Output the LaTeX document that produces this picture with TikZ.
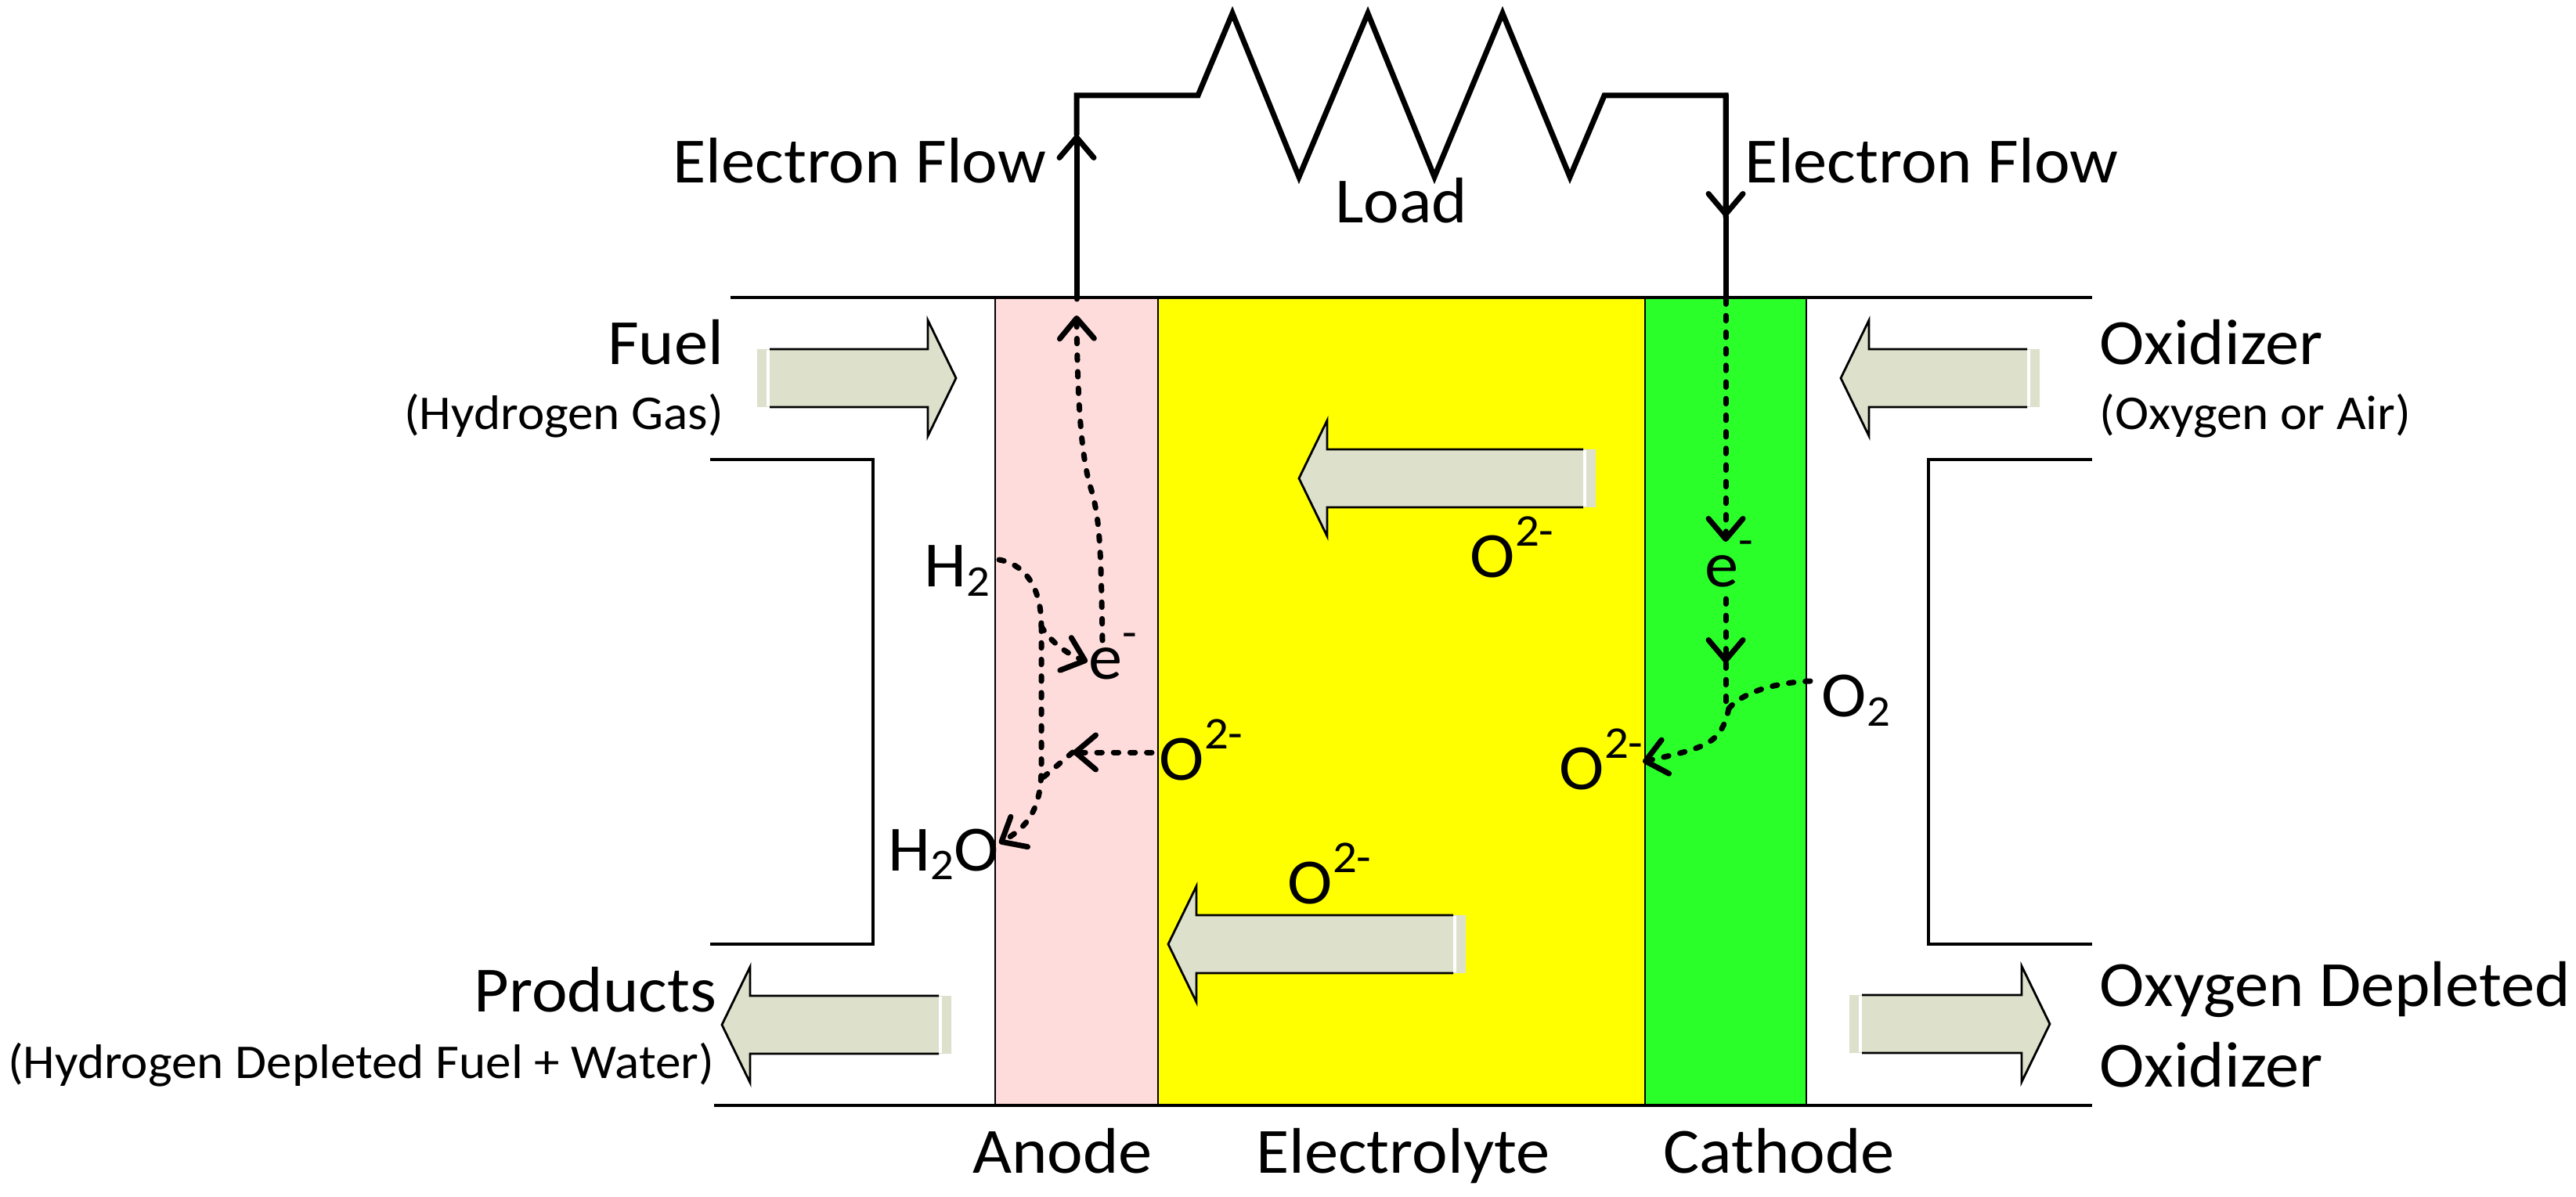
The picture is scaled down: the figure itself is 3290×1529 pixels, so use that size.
\documentclass[tikz,border=0pt]{standalone}
\usepackage{fontspec}
\setmainfont[FakeStretch=1.05]{Carlito}
\usetikzlibrary{arrows.meta}
\definecolor{anodepink}{RGB}{255,220,220}
\definecolor{electrolyteyellow}{RGB}{255,255,0}
\definecolor{cathodegreen}{RGB}{42,255,42}
\definecolor{arrowgrey}{RGB}{221,225,204}
\newcommand{\ionsup}[1]{\raisebox{10pt}{\fontsize{14.5}{16}\selectfont #1}}
\newcommand{\ionsub}[1]{\raisebox{-2.75pt}{\fontsize{14}{16}\selectfont #1}}
\tikzset{
  wire/.style={line width=1.75pt,line cap=round,line join=miter},
  flow/.style={line width=1.75pt,line cap=round,dash pattern=on 1.6pt off 3.7pt},
  barb/.style={-{Straight Barb[length=6.5pt,width=11pt,line cap=round,line join=round,line width=1.75pt]}},
  thin line/.style={line width=0.9pt},
  layer line/.style={line width=0.7pt},
  big/.style={font=\fontsize{20.6}{24}\selectfont,inner sep=0pt},
  small/.style={font=\fontsize{15.5}{18}\selectfont,inner sep=0pt}
}
\begin{document}
\begin{tikzpicture}[x=0.25pt,y=-0.25pt]
  \useasboundingbox (0,0) rectangle (3290,1529);

  % cell layers
  \fill[anodepink] (1271,380) rectangle (1479,1412);
  \fill[electrolyteyellow] (1479,380) rectangle (2101,1412);
  \fill[cathodegreen] (2101,380) rectangle (2307,1412);
  \draw[layer line] (1271,380) -- (1271,1412);
  \draw[layer line] (1479,380) -- (1479,1412);
  \draw[layer line] (2101,380) -- (2101,1412);
  \draw[layer line] (2307,380) -- (2307,1412);
  \draw[thin line] (933,380) -- (2672,380);
  \draw[thin line] (912,1412) -- (2672,1412);

  % inlet and outlet walls
  \draw[thin line] (907,587) -- (1115,587) -- (1115,1206) -- (907,1206);
  \draw[thin line] (2672,587) -- (2463,587) -- (2463,1206) -- (2672,1206);

  % block arrows: start, centre, direction, length
  \foreach \x/\y/\s/\l in {967/483/1/254, 2605/483/-1/254, 2038/611/-1/379,
                           1872/1206/-1/380, 1215/1309/-1/293, 2362/1308/1/256} {
    \begin{scope}[shift={(\x,\y)},xscale=\s]
      \fill[arrowgrey] (0,-37) -- (\l-36,-37) -- (\l-36,-74) -- (\l,0)
        -- (\l-36,74) -- (\l-36,37) -- (0,37) -- cycle;
      \fill[white] (12,-36) rectangle (16,36);
      \draw[layer line,line join=miter] (16,-37) -- (\l-36,-37) -- (\l-36,-74) -- (\l,0)
        -- (\l-36,74) -- (\l-36,37) -- (16,37);
    \end{scope}
  }

  % circuit
  \coordinate (anodetop) at (1375,382);
  \coordinate (anodehead) at (1375,172);
  \coordinate (leftcorner) at (1375,122);
  \coordinate (rightcorner) at (2204,122);
  \coordinate (cathodehead) at (2204,277);
  \coordinate (cathodetop) at (2204,382);
  \draw[wire,barb] (anodetop) -- (anodehead);
  \draw[wire] (anodehead) -- (leftcorner) -- (1530,122) -- (1574,17) -- (1659,226) -- (1747,17)
    -- (1832,226) -- (1919,17) -- (2005,226) -- (2049,122) -- (rightcorner) -- (cathodehead);
  \draw[wire,barb] (rightcorner) -- (cathodehead);
  \draw[wire] (cathodehead) -- (cathodetop);

  % anode reactions
  \node[big,anchor=base west] (enode) at (1390,868) {e\ionsup{-}};
  \node[big,anchor=base west] (htwo) at (1180,750) {H\ionsub{2}};
  \node[big,anchor=base west] (hwater) at (1134,1112) {H\ionsub{2}O};
  \node[big,anchor=base west] (oanode) at (1480,996) {O\ionsup{2-}};
  \coordinate (enodebottom) at (1408,818);
  \coordinate (electronout) at (1375,403);
  \coordinate (htwostart) at (1276,715);
  \coordinate (joint) at (1330,800);
  \coordinate (enodeleft) at (1389,845);
  \coordinate (waterend) at (1276,1077);
  \coordinate (oanoderight) at (1471,961);
  \coordinate (oanodetip) at (1370,961);
  \coordinate (jointb) at (1330,995);
  \draw[flow,barb] (enodebottom) .. controls (1406,700) and (1405,660) .. (1392,620)
    .. controls (1378,570) and (1376,480) .. (electronout);
  \draw[flow] (htwostart) .. controls (1305,720) and (1330,745) .. (joint);
  \draw[flow,barb] (joint) .. controls (1338,815) and (1360,835) .. (enodeleft);
  \draw[flow,barb] (joint) -- (1330,980) .. controls (1330,1030) and (1315,1055) .. (waterend);
  \draw[flow,barb] (oanoderight) -- (oanodetip);
  \draw[flow] (oanodetip) -- (jointb);

  % cathode reactions
  \node[big,anchor=base west] (ecathode) at (2177,750) {e\ionsup{-}};
  \node[big,anchor=base west] (otwo) at (2326,916) {O\ionsub{2}};
  \node[big,anchor=base west] (ocathode) at (1991,1008) {O\ionsup{2-}};
  \coordinate (eunder) at (2204,692);
  \coordinate (eabove) at (2204,765);
  \coordinate (emid) at (2204,847);
  \coordinate (ebend) at (2204,900);
  \coordinate (otworight) at (2312,870);
  \coordinate (ocathodetip) at (2098,973);
  \draw[flow,barb] (cathodetop) -- (eunder);
  \draw[flow,barb] (eabove) -- (emid);
  \draw[flow] (emid) -- (ebend);
  \draw[flow] (otworight) .. controls (2265,872) and (2225,885) .. (2208,905);
  \draw[flow,barb] (2208,905) .. controls (2198,950) and (2180,955) .. (ocathodetip);

  % labels
  \node[big,anchor=base east] (flowleft) at (1337,234) {Electron Flow};
  \node[big,anchor=base west] (flowright) at (2228,234) {Electron Flow};
  \node[big,anchor=base] (load) at (1790,285) {Load};
  \node[big,anchor=base east] (fuel) at (925,466) {Fuel};
  \node[small,anchor=base east] (fuelnote) at (925,549) {(Hydrogen Gas)};
  \node[big,anchor=base west] (oxidizer) at (2681,466) {Oxidizer};
  \node[small,anchor=base west] (oxidizernote) at (2681,549) {(Oxygen or Air)};
  \node[big,anchor=base east] (products) at (916,1292) {Products};
  \node[small,anchor=base east] (productsnote) at (913,1377) {(Hydrogen Depleted Fuel + Water)};
  \node[big,anchor=base west] (depleted) at (2681,1285) {Oxygen Depleted};
  \node[big,anchor=base west] (depletedb) at (2681,1388) {Oxidizer};
  \node[big,anchor=base west] (oupper) at (1877,738) {O\ionsup{2-}};
  \node[big,anchor=base west] (olower) at (1644,1154) {O\ionsup{2-}};
  \node[big,anchor=base] (anode) at (1357,1498) {Anode};
  \node[big,anchor=base] (electrolyte) at (1792,1498) {Electrolyte};
  \node[big,anchor=base] (cathode) at (2272,1498) {Cathode};
\end{tikzpicture}
\end{document}
